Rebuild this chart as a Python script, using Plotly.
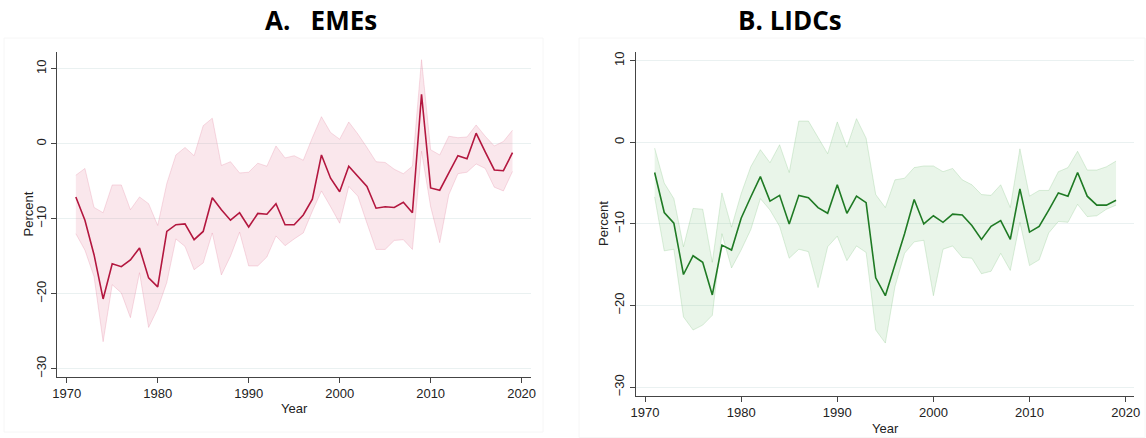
import plotly.graph_objects as go

years = list(range(1971, 2020))

# Panel A: EMEs
eme_mid = [-7.1, -10.2, -14.8, -20.7, -16.0, -16.4, -15.5, -13.9, -17.9, -19.1,
           -11.7, -10.8, -10.7, -12.8, -11.7, -7.2, -8.8, -10.2, -9.2, -11.1,
           -9.3, -9.4, -8.0, -10.8, -10.8, -9.5, -7.4, -1.5, -4.6, -6.4,
           -3.0, -4.3, -5.7, -8.6, -8.4, -8.5, -7.8, -9.2, 6.6, -5.9,
           -6.2, -3.9, -1.6, -2.0, 1.4, -1.1, -3.5, -3.6, -1.2]
eme_hi = [-4.2, -3.3, -8.5, -9.2, -5.5, -5.5, -8.8, -7.1, -8.0, -10.9,
          -5.3, -1.5, -0.5, -1.6, 2.4, 3.4, -2.9, -2.4, -3.9, -3.8,
          -2.6, -3.0, -0.3, -1.9, -1.6, -2.2, 0.8, 3.6, 1.5, 0.6,
          2.9, 1.3, -0.5, -2.4, -2.5, -3.4, -4.0, -3.0, 11.2, -0.8,
          -1.5, 1.0, 0.8, 0.9, 2.5, 1.0, -0.3, 0.3, 1.8]
eme_lo = [-12.0, -14.2, -17.7, -26.4, -18.8, -19.9, -23.2, -17.2, -24.5, -22.0,
          -18.5, -12.7, -13.7, -16.8, -15.9, -11.9, -17.5, -15.0, -11.8, -16.3,
          -16.3, -15.1, -12.3, -13.6, -12.7, -11.9, -9.0, -6.3, -8.4, -10.6,
          -5.7, -7.0, -10.6, -14.1, -14.1, -12.9, -12.8, -14.1, -1.0, -8.4,
          -13.2, -6.8, -4.0, -3.8, -2.7, -3.3, -5.8, -6.3, -3.7]

# Panel B: LIDCs
lidc_mid = [-3.7, -8.6, -9.9, -16.2, -13.9, -14.7, -18.7, -12.6, -13.2, -9.3,
            -6.7, -4.2, -7.2, -6.5, -10.0, -6.5, -6.8, -8.0, -8.7, -5.2,
            -8.7, -6.6, -7.4, -16.6, -18.8, -15.0, -11.2, -7.0, -10.0, -9.0,
            -9.8, -8.8, -8.9, -10.2, -11.9, -10.3, -9.6, -11.9, -5.7, -11.0,
            -10.3, -8.3, -6.2, -6.6, -3.7, -6.6, -7.7, -7.7, -7.1]
lidc_hi = [-0.7, -5.0, -6.9, -12.8, -8.1, -8.2, -14.7, -6.2, -10.4, -6.3,
           -3.0, -0.9, -2.5, -0.3, -3.7, 2.6, 2.6, 0.6, -1.4, 2.5,
           -0.6, 2.9, 0.5, -6.4, -8.0, -4.6, -4.4, -3.1, -2.9, -2.9,
           -3.6, -3.2, -4.6, -5.2, -6.4, -6.5, -5.2, -8.0, -0.8, -6.6,
           -5.9, -5.9, -3.6, -3.1, -1.1, -3.4, -3.4, -3.0, -2.3]
lidc_lo = [-6.7, -13.3, -13.1, -21.4, -23.0, -22.4, -21.2, -11.2, -15.4, -13.2,
           -10.7, -6.9, -8.3, -10.3, -14.2, -13.1, -13.4, -17.8, -12.8, -11.5,
           -14.5, -12.7, -13.5, -23.0, -24.6, -17.7, -13.6, -12.2, -12.0, -18.8,
           -13.1, -12.7, -14.1, -14.2, -16.1, -15.8, -13.6, -15.7, -9.8, -15.1,
           -14.4, -11.1, -9.7, -9.8, -7.6, -9.1, -9.0, -8.2, -7.7]

y_ticks = [10, 0, -10, -20, -30]
x_ticks = [1970, 1980, 1990, 2000, 2010, 2020]

W, H = 1146, 438
tick_font = dict(family="Liberation Sans, Arial", size=13, color="#222")

fig = go.Figure()


def add_panel(mid, hi, lo, xa, ya, line_col, fill_col, edge_col):
    fig.add_trace(go.Scatter(x=years, y=lo, mode="lines", line=dict(color=edge_col, width=1),
                             xaxis=xa, yaxis=ya, showlegend=False, hoverinfo="skip"))
    fig.add_trace(go.Scatter(x=years, y=hi, mode="lines", line=dict(color=edge_col, width=1),
                             fill="tonexty", fillcolor=fill_col,
                             xaxis=xa, yaxis=ya, showlegend=False, hoverinfo="skip"))
    fig.add_trace(go.Scatter(x=years, y=mid, mode="lines", line=dict(color=line_col, width=1.6),
                             xaxis=xa, yaxis=ya, showlegend=False))


add_panel(eme_mid, eme_hi, eme_lo, "x", "y", "#b3173f", "rgba(226,110,140,0.17)", "rgba(226,120,150,0.25)")
add_panel(lidc_mid, lidc_hi, lidc_lo, "x2", "y2", "#1f7a24", "rgba(120,190,120,0.16)", "rgba(120,190,120,0.25)")


def xaxis(dom, rng):
    return dict(domain=dom, range=rng, tickvals=x_ticks, showgrid=False, zeroline=False,
                showline=True, linecolor="#444", linewidth=1.3, ticks="outside", ticklen=5,
                tickcolor="#444", tickfont=tick_font, automargin=False)


def yaxis(dom, rng, anchor):
    return dict(domain=dom, range=rng, tickvals=y_ticks, tickangle=-90, showgrid=True,
                gridcolor="#eaf1f1", gridwidth=1.2, zeroline=False, showline=True,
                linecolor="#444", linewidth=1.3, ticks="outside", ticklen=5, tickcolor="#444",
                tickfont=tick_font, anchor=anchor, automargin=False)


fig.update_layout(
    width=W, height=H,
    margin=dict(l=0, r=0, t=0, b=0),
    plot_bgcolor="white", paper_bgcolor="white",
    xaxis=dict(xaxis([57 / W, 530.7 / W], [1968.93, 2021.0]), anchor="y"),
    yaxis=yaxis([(H - 376.7) / H, (H - 51.7) / H], [-31.07, 12.27], "x"),
    xaxis2=dict(xaxis([635.7 / W, 1134.3 / W], [1969.03, 2020.9]), anchor="y2"),
    yaxis2=yaxis([(H - 395.7) / H, (H - 52.3) / H], [-31.05, 11.03], "x2"),
)

# faint panel frames
fig.add_shape(type="rect", xref="paper", yref="paper", x0=4 / W, x1=543 / W,
              y0=(H - 432) / H, y1=(H - 38) / H, line=dict(color="#f6f6f6", width=1), layer="below")
fig.add_shape(type="rect", xref="paper", yref="paper", x0=579 / W, x1=1145 / W,
              y0=0.001, y1=(H - 38) / H, line=dict(color="#f6f6f6", width=1), layer="below")


def label(text, px, py, font, angle=0):
    fig.add_annotation(text=text, x=px / W, y=(H - py) / H, xref="paper", yref="paper",
                       showarrow=False, font=font, textangle=angle,
                       xanchor="center", yanchor="middle")


title_font = dict(family="Open Sans", size=26, color="black")
label("<b>A.   EMEs</b>", 321, 20, title_font)
label("<b>B. LIDCs</b>", 790, 20, title_font)

lab_font = dict(family="Liberation Sans, Arial", size=13, color="#222")
label("Percent", 27.5, 214, lab_font, -90)
label("Percent", 603, 224, lab_font, -90)
label("Year", 294, 408, lab_font)
label("Year", 885, 428.5, lab_font)

fig.write_html("out.html", post_script="document.body.style.margin='0';",
               config={"displayModeBar": False})
